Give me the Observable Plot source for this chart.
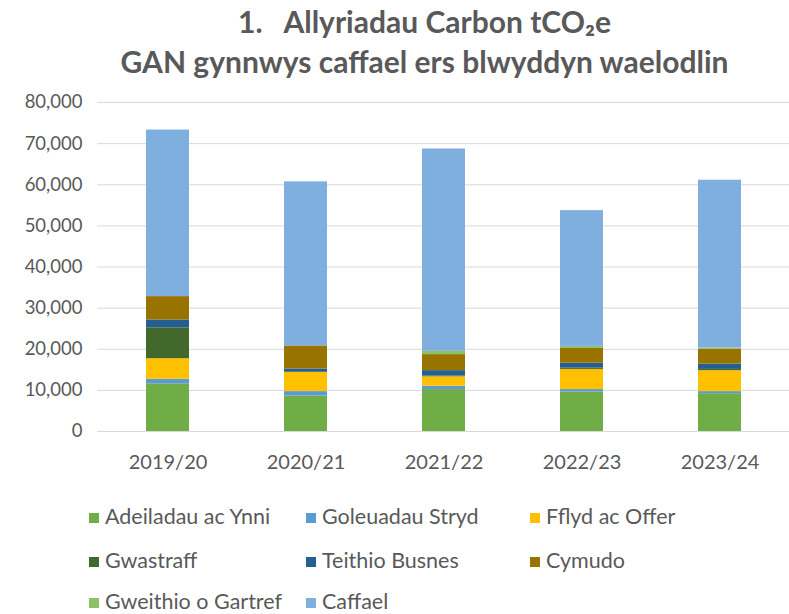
<!DOCTYPE html>
<html>
<head>
<meta charset="utf-8">
<script src="https://cdn.jsdelivr.net/npm/d3@7"></script>
<script src="https://cdn.jsdelivr.net/npm/@observablehq/plot@0.6"></script>
<style>
  html, body { margin: 0; padding: 0; background: #fff; }
  #wrap { position: relative; width: 789px; height: 614px; overflow: hidden; font-family: Lato, "Open Sans", sans-serif; color: #595959; }
  #title { position: absolute; left: 0; top: 0; width: 789px; text-align: center; font-weight: bold; font-size: 30px; line-height: 40px; padding-top: 1px; padding-left: 60px; box-sizing: border-box; white-space: pre; }
  #chart { position: absolute; left: 0; top: 88px; }
  .leg { position: absolute; font-size: 21.5px; white-space: nowrap; line-height: 20px; }
  .leg i { display: inline-block; width: 10px; height: 10px; margin-right: 6px; vertical-align: 1px; }
</style>
</head>
<body>
<div id="wrap">
  <div id="title">1.   Allyriadau Carbon tCO₂e
GAN gynnwys caffael ers blwyddyn waelodlin</div>
  <div id="chart"></div>
  <div id="legend"></div>
</div>
<script>
const years = ["2019/20", "2020/21", "2021/22", "2022/23", "2023/24"];
const seriesNames = ["Adeiladau ac Ynni", "Goleuadau Stryd", "Fflyd ac Offer", "Gwastraff", "Teithio Busnes", "Cymudo", "Gweithio o Gartref", "Caffael"];
const seriesColors = ["#70AD47", "#5B9BD5", "#FFC000", "#43682B", "#255E91", "#997300", "#8CC168", "#7EAFDE"];

const adeiladau = [11600, 8600, 10200, 9600, 9200];
const goleuadau = [1100, 1100, 800, 600, 500];
const fflyd     = [5000, 4700, 2300, 4900, 5100];
const gwastraff = [7500, 0, 200, 300, 300];
const teithio   = [1900, 800, 1300, 1200, 1300];
const cymudo    = [5700, 5600, 3900, 3600, 3600];
const gweithio  = [0, 0, 800, 500, 300];
const caffael   = [40500, 39900, 49200, 33000, 40800];

const yTicks = [0, 10000, 20000, 30000, 40000, 50000, 60000, 70000, 80000];

const seriesValues = [adeiladau, goleuadau, fflyd, gwastraff, teithio, cymudo, gweithio, caffael];
const rows = [];
seriesNames.forEach((s, i) => {
  years.forEach((y, j) => rows.push({ year: y, series: s, value: seriesValues[i][j] }));
});

const fmt = d3.format(",");
const chart = Plot.plot({
  width: 789,
  height: 400,
  marginLeft: 97,
  marginRight: 0,
  marginTop: 14,
  marginBottom: 57,
  style: { fontFamily: "Lato, 'Open Sans', sans-serif", fontSize: "18.5px", color: "#595959", background: "#fff" },
  x: { domain: years, paddingInner: 0.69, paddingOuter: 0.345, label: null },
  y: { domain: [0, 80000], label: null },
  color: { domain: seriesNames, range: seriesColors },
  marks: [
    Plot.gridY(yTicks, { stroke: "#D9D9D9", strokeOpacity: 1, strokeWidth: 1 }),
    Plot.barY(rows, { x: "year", y: "value", fill: "series", order: seriesNames }),
    Plot.axisX({ tickSize: 0, tickPadding: 23, fill: "#595959", fontSize: 20 }),
    Plot.axisY(yTicks, { tickSize: 0, tickPadding: 15, tickFormat: fmt, fill: "#595959" })
  ]
});
document.getElementById("chart").appendChild(chart);

const legendPos = [[89, 506], [306, 506], [530, 506], [89, 550], [306, 550], [530, 550], [89, 591], [306, 591]];
const legend = document.getElementById("legend");
seriesNames.forEach((s, i) => {
  const el = document.createElement("div");
  el.className = "leg";
  el.style.left = legendPos[i][0] + "px";
  el.style.top = legendPos[i][1] + "px";
  el.innerHTML = `<i style="background:${seriesColors[i]}"></i>${s}`;
  legend.appendChild(el);
});
</script>
</body>
</html>
